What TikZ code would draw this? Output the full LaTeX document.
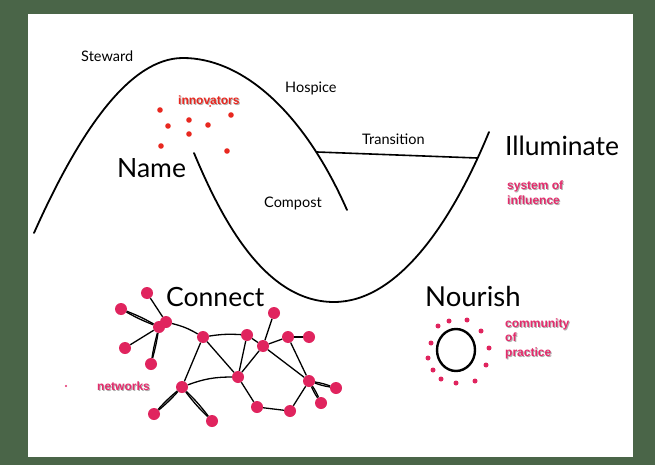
\documentclass[tikz,border=0pt]{standalone}
\usepackage{fontspec}
\setmainfont{Lato}
\newfontfamily\tagfont{Liberation Sans}
\definecolor{framegreen}{RGB}{74,101,72}
\definecolor{inkred}{RGB}{232,40,32}
\definecolor{netpink}{RGB}{224,36,94}
\definecolor{tagpink}{RGB}{228,44,108}
\definecolor{tagshade}{RGB}{175,175,175}
\begin{document}
\begin{tikzpicture}[x=1pt,y=-1pt,
  word/.style={font=\fontsize{14.5}{16}\selectfont, inner sep=0pt, anchor=base west},
  title/.style={font=\fontsize{26.5}{30}\selectfont, inner sep=0pt, anchor=base west},
  tag/.style={font=\tagfont\bfseries\fontsize{12}{14}\selectfont, inner sep=0pt, anchor=base west},
  tagshadow/.style={tag, text=tagshade},
  wave/.style={line width=1.8pt, line cap=round},
  netdot/.style={circle, fill=netpink, minimum size=12pt, inner sep=0pt},
  seed/.style={circle, fill=inkred, minimum size=5.6pt, inner sep=0pt},
  ringdot/.style={circle, fill=netpink, minimum size=5pt, inner sep=0pt},
  link/.style={line width=1.3pt}]

% frame and page
\fill[framegreen] (0,0) rectangle (655,465);
\fill[white] (28,14) rectangle (633,457);

% the two waves and the bridge between them
\coordinate (w1a) at (34,233);
\coordinate (w1b) at (347,210);
\coordinate (w2a) at (194,153);
\coordinate (w2b) at (489,132);
\coordinate (bridgeL) at (317,152);
\coordinate (bridgeR) at (477,158);
\draw[wave] (w1a) .. controls (80,130) and (130,58) .. (183,58)
                  .. controls (240,58) and (302,108) .. (w1b);
\draw[wave] (w2a) .. controls (222,220) and (265,302) .. (334,302)
                  .. controls (398,302) and (452,222) .. (w2b);
\draw[line width=1.6pt] (bridgeL) -- (bridgeR);

% stage words
\node[word] (steward) at (81,62) {Steward};
\node[word] (hospice) at (285,93) {Hospice};
\node[word] (transition) at (362,145) {Transition};
\node[word] (compost) at (264,207) {Compost};
\node[title] (name) at (117,178) {Name};
\node[title] (illuminate) at (505,156) {Illuminate};
\node[title] (connect) at (166,306) {Connect};
\node[title, font=\fontsize{27.5}{30}\selectfont] (nourish) at (425,306.5) {Nourish};

% tags
\node[tagshadow] (innovatorsS) at (179,106) {innovators};
\node[tag, text=inkred] (innovators) at (178,105) {innovators};
\node[tagshadow] (systemS) at (508,190.5) {system of};
\node[tag, text=tagpink] (system) at (507,189.5) {system of};
\node[tagshadow] (influenceS) at (508,205) {influence};
\node[tag, text=tagpink] (influence) at (507,204) {influence};
\node[tagshadow] (communityS) at (506,328.5) {community};
\node[tag, text=tagpink] (community) at (505,327.5) {community};
\node[tagshadow] (ofS) at (506,342.5) {of};
\node[tag, text=tagpink] (of) at (505,341.5) {of};
\node[tagshadow] (practiceS) at (506,357) {practice};
\node[tag, text=tagpink] (practice) at (505,356) {practice};
\node[tagshadow] (networksS) at (98,391) {networks};
\node[tag, text=tagpink] (networks) at (97,390) {networks};
\node[circle, fill=tagpink, minimum size=2.4pt, inner sep=0pt] (speck) at (66,386) {};

% innovator seeds
\foreach \p [count=\i] in {(160,110),(168,126),(189,120),(189,134),(208,125),(231,115),(161,146),(227,151)}
  \node[seed] (seed\i) at \p {};
\node[circle, fill=inkred, minimum size=2pt, inner sep=0pt] (seedtiny) at (210,106) {};

% community ring
\draw[line width=2.4pt] (456,350) ellipse [x radius=19pt, y radius=21pt];
\foreach \p [count=\i] in {(438,326),(449,321),(467,320),(481,331),(489,348),(486,365),
                           (475,381),(456,383),(441,379),(433,370),(428,358),(431,343)}
  \node[ringdot] (ring\i) at \p {};

% network nodes
\node[netdot] (A) at (147,293) {};
\node[netdot] (B) at (121,309) {};
\node[netdot] (C) at (159,327) {};
\node[netdot] (C2) at (166,322) {};
\node[netdot] (D) at (125,348) {};
\node[netdot] (E) at (151,364) {};
\node[netdot] (F) at (203,337) {};
\node[netdot] (G) at (182,387) {};
\node[netdot] (S) at (154,414) {};
\node[netdot] (T) at (212,421) {};
\node[netdot] (H) at (274,313) {};
\node[netdot] (I) at (247,335) {};
\node[netdot] (J) at (263,346) {};
\node[netdot] (K) at (288,337) {};
\node[netdot] (L) at (309,337) {};
\node[netdot] (M) at (238,377) {};
\node[netdot] (N) at (309,381) {};
\node[netdot] (O) at (336,388) {};
\node[netdot] (P) at (321,403) {};
\node[netdot] (Q) at (257,407) {};
\node[netdot] (R) at (290,411) {};

% network links
\draw[link] (A) -- (C2);
\draw[link] (B) to[bend left=4] (C);
\draw[link] (B) to[bend right=4] (C);
\draw[link] (D) -- (C);
\draw[link] (E) to[bend left=3] (C);
\draw[link] (E) to[bend right=3] (C);
\draw[link] (C2) to[bend left=8] (F);
\draw[link] (F) to[bend left=6] (I);
\draw[link] (F) -- (M);
\draw[link] (F) -- (G);
\draw[link] (G) to[bend left=4] (S);
\draw[link] (G) to[bend right=4] (S);
\draw[link] (G) to[bend left=4] (T);
\draw[link] (G) to[bend right=4] (T);
\draw[link] (G) to[bend left=10] (M);
\draw[link] (I) -- (M);
\draw[link] (I) -- (J);
\draw[link] (M) -- (J);
\draw[link] (J) -- (H);
\draw[link] (J) -- (K);
\draw[link] (K) -- (L);
\draw[link] (J) -- (N);
\draw[link] (K) -- (N);
\draw[link] (N) to[bend left=5] (O);
\draw[link] (N) to[bend right=5] (O);
\draw[link] (N) to[bend left=5] (P);
\draw[link] (N) to[bend right=5] (P);
\draw[link] (N) -- (R);
\draw[link] (R) -- (Q);
\draw[link] (Q) -- (M);
\end{tikzpicture}
\end{document}
